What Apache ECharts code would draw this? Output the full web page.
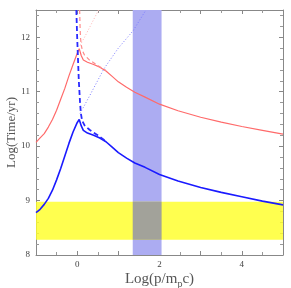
<!DOCTYPE html>
<html><head><meta charset="utf-8">
<script src="https://cdn.jsdelivr.net/npm/echarts@6/dist/echarts.min.js"></script>
<style>html,body{margin:0;padding:0;background:#fff}#c{width:291px;height:288px}</style>
</head><body><div id="c"></div>
<script>
const xs = [-1,-0.9,-0.8,-0.7,-0.6,-0.5,-0.4,-0.3,-0.2,-0.1,0,0.05,0.1,0.15,0.25,0.4,0.55,0.7,0.85,1.0,1.2,1.4,1.65,2.0,2.45,3.0,3.5,4.0,4.5,5.0];
const blueSolid = [8.78,8.84,8.93,9.04,9.19,9.38,9.59,9.82,10.05,10.26,10.43,10.49,10.37,10.29,10.24,10.2,10.15,10.08,9.98,9.88,9.78,9.69,9.61,9.48,9.36,9.24,9.15,9.07,8.99,8.92];
const redSolid = [10.07,10.15,10.23,10.35,10.49,10.66,10.86,11.06,11.29,11.5,11.7,11.79,11.66,11.58,11.54,11.5,11.45,11.38,11.28,11.18,11.08,10.99,10.9,10.77,10.65,10.53,10.44,10.36,10.29,10.22];
const blueDashX = [-0.02,0.0,0.02,0.04,0.07,0.09,0.12,0.18,0.3,0.5,0.7];
const blueDashY = [12.5,12.0,11.6,11.2,10.8,10.6,10.47,10.38,10.3,10.2,10.09];
const redDashX = [0.06,0.07,0.08,0.1,0.13,0.18,0.3,0.5,0.7];
const redDashY = [12.5,12.2,12.0,11.85,11.75,11.67,11.58,11.48,11.39];
const blueDotX = [0.07,0.3,0.65,1.0,1.36,1.67];
const blueDotY = [10.6,10.92,11.42,11.8,12.12,12.5];
const redDotX = [0.07,0.2,0.35,0.52];
const redDotY = [11.85,12.03,12.25,12.5];
const yellowBand = [8.28, 8.98];
const blueBand = [1.35, 2.05];
const xLabels = [0, 2, 4];
const yLabels = [8, 9, 10, 11, 12];

const zip = (a, b) => a.map((v, i) => [v, b[i]]);
const serif = 'Liberation Serif';
const chart = echarts.init(document.getElementById('c'));
const line = {show: true, onZero: false, lineStyle: {color: '#888', width: 1}};
const tick = {inside: true, length: 4, lineStyle: {color: '#888'}};
chart.setOption({
  animation: false,
  grid: {left: 36, right: 8, top: 10, bottom: 33, containLabel: false, outerBoundsMode: 'none'},
  xAxis: [
    {type: 'value', min: -1, max: 5, interval: 1, position: 'bottom',
      axisLine: line, axisTick: tick, splitLine: {show: false},
      minorTick: {show: true, splitNumber: 2, length: 3, lineStyle: {color: '#999'}},
      axisLabel: {fontFamily: serif, fontSize: 9, color: '#444', margin: 5,
        formatter: v => xLabels.includes(v) ? String(v) : ''},
      name: 'Log(p/m{s|p}c)', nameLocation: 'middle', nameGap: 14, nameMoveOverlap: false,
      nameTextStyle: {fontFamily: serif, fontSize: 15, color: '#555', verticalAlign: 'top',
        rich: {s: {fontFamily: serif, fontSize: 10, color: '#555', padding: [10, 0, 0, 0]}}}},
    {type: 'value', min: -1, max: 5, interval: 1, position: 'top',
      axisLine: line, axisTick: tick,
      minorTick: {show: true, splitNumber: 2, length: 3, lineStyle: {color: '#999'}},
      axisLabel: {show: false}, splitLine: {show: false}}
  ],
  yAxis: [
    {type: 'value', min: 8, max: 12.5, interval: 1, position: 'left',
      axisLine: line, axisTick: tick,
      minorTick: {show: true, splitNumber: 5, length: 3, lineStyle: {color: '#999'}},
      splitLine: {show: false},
      axisLabel: {fontFamily: serif, fontSize: 9, color: '#444', margin: 6, showMaxLabel: false,
        formatter: v => yLabels.includes(v) ? String(v) : ''},
      name: 'Log(Time/yr)', nameLocation: 'middle', nameGap: 18, nameMoveOverlap: false,
      nameTextStyle: {fontFamily: serif, fontSize: 13, color: '#555'}},
    {type: 'value', min: 8, max: 12.5, interval: 1, position: 'right',
      axisLine: line, axisTick: tick,
      minorTick: {show: true, splitNumber: 5, length: 3, lineStyle: {color: '#999'}},
      splitLine: {show: false}, axisLabel: {show: false}}
  ],
  series: [
    {type: 'line', data: [], z: 1, silent: true,
      markArea: {silent: true, itemStyle: {color: '#acacf2'},
        data: [[{xAxis: blueBand[0], yAxis: 8}, {xAxis: blueBand[1], yAxis: 12.5}]]}},
    {type: 'line', data: zip(xs, redSolid), showSymbol: false, z: 3,
      lineStyle: {color: '#ff6a6a', width: 1.2}},
    {type: 'line', data: zip(redDashX, redDashY), showSymbol: false, z: 3,
      lineStyle: {color: '#ff8a8a', width: 1.2, type: [4, 3]}},
    {type: 'line', data: zip(redDotX, redDotY), showSymbol: false, z: 3,
      lineStyle: {color: '#ffb0b0', width: 1, type: [1, 2]}},
    {type: 'line', data: zip(xs, blueSolid), showSymbol: false, z: 3,
      lineStyle: {color: '#1a1aff', width: 1.6}},
    {type: 'line', data: zip(blueDashX, blueDashY), showSymbol: false, z: 3,
      lineStyle: {color: '#2a2aff', width: 1.8, type: [5, 3]}},
    {type: 'line', data: zip(blueDotX, blueDotY), showSymbol: false, z: 3,
      lineStyle: {color: '#7a7aff', width: 1, type: [1, 2]}},
    {type: 'line', data: [], z: 5, silent: true,
      markArea: {silent: true,
        data: [
          [{xAxis: -1, yAxis: yellowBand[0], itemStyle: {color: 'rgba(255,255,40,0.82)'}}, {xAxis: 5, yAxis: yellowBand[1]}],
          [{xAxis: blueBand[0], yAxis: yellowBand[0], itemStyle: {color: '#a2a29a'}}, {xAxis: blueBand[1], yAxis: yellowBand[1]}]
        ]}}
  ]
});
</script></body></html>
